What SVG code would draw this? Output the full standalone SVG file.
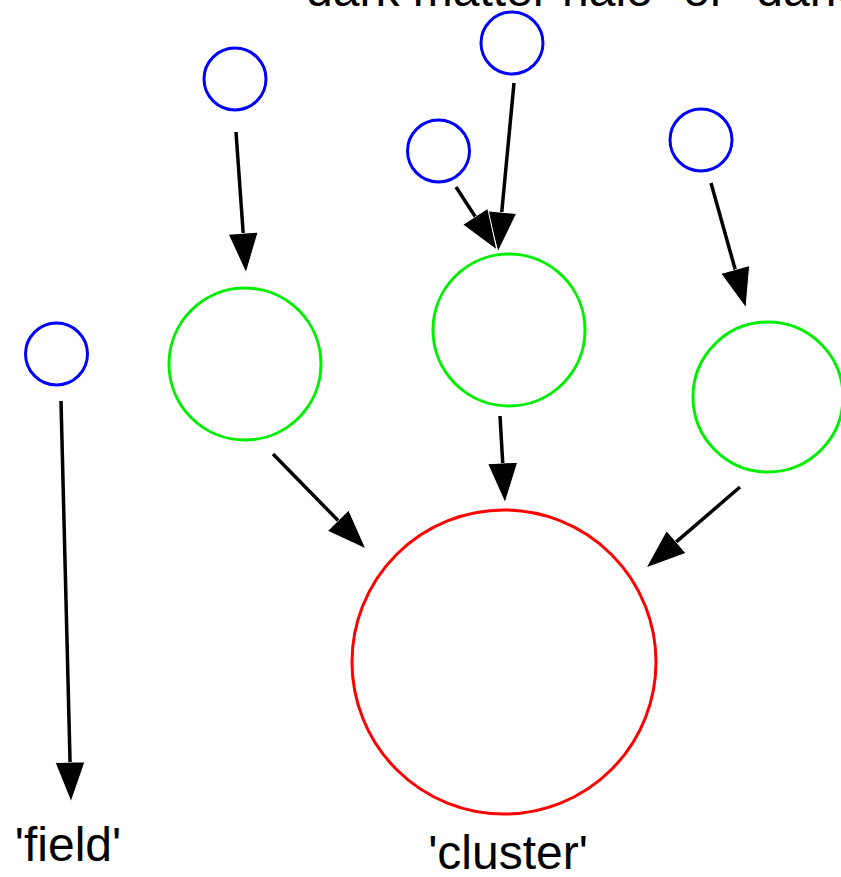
<svg xmlns="http://www.w3.org/2000/svg" width="841" height="877" viewBox="0 0 841 877">
<style>
.t{font-family:"Liberation Sans",Arial,sans-serif;fill:#000}
.blue{fill:none;stroke:#0000ff;stroke-width:3}
.green{fill:none;stroke:#00ee00;stroke-width:3}
.red{fill:none;stroke:#ff0000;stroke-width:3}
.edge{stroke:#000;stroke-width:3.5;fill:none;marker-end:url(#ah)}
</style>
<defs>
<marker id="ah" viewBox="0 0 40 30" refX="10" refY="15" markerWidth="40" markerHeight="30" markerUnits="userSpaceOnUse" orient="auto">
<path d="M0,0 L40,15 L0,30 Z" fill="#000" stroke="#fff" stroke-width="1"/>
</marker>
</defs>
<rect width="841" height="877" fill="#fff"/>
<text class="t" x="289" y="6" font-size="48">"dark matter halo" or "dark</text>
<g id="connectors">
<line class="edge" x1="236" y1="132" x2="243.9" y2="243.1"/>
<line class="edge" x1="514" y1="83" x2="500.8" y2="222.1"/>
<line class="edge" x1="456" y1="187" x2="480.6" y2="224.9"/>
<line class="edge" x1="711" y1="183" x2="737.9" y2="279.1"/>
<line class="edge" x1="61" y1="401" x2="70.3" y2="772"/>
<line class="edge" x1="273" y1="454" x2="345" y2="527.6"/>
<line class="edge" x1="500" y1="416" x2="503.3" y2="473"/>
<line class="edge" x1="740" y1="487" x2="668.7" y2="548.4"/>
</g>
<g id="b1"><circle class="blue" cx="235" cy="79" r="31"/></g>
<g id="b2"><circle class="blue" cx="512" cy="43" r="31"/></g>
<g id="b3"><circle class="blue" cx="438.5" cy="151" r="31"/></g>
<g id="b4"><circle class="blue" cx="701" cy="140" r="31"/></g>
<g id="b5"><circle class="blue" cx="56.5" cy="354" r="31"/></g>
<g id="gA"><circle class="green" cx="245" cy="364" r="76"/></g>
<g id="gB"><circle class="green" cx="509" cy="330" r="76"/></g>
<g id="gC"><circle class="green" cx="768" cy="397" r="75"/></g>
<g id="cluster"><circle class="red" cx="504" cy="662" r="152"/>
<text class="t" x="508" y="869" font-size="48" text-anchor="middle">'cluster'</text></g>
<g id="field"><text class="t" x="68" y="861" font-size="48" text-anchor="middle">'field'</text></g>
</svg>
